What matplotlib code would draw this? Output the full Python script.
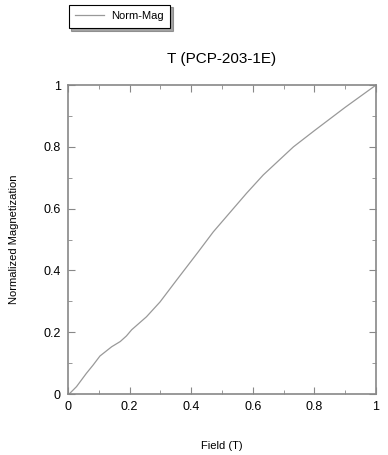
import matplotlib
matplotlib.use("Agg")
import matplotlib.pyplot as plt
import numpy as np
from matplotlib.ticker import MultipleLocator

# values
field = [0.0, 0.006, 0.028, 0.06, 0.082, 0.104, 0.142, 0.17, 0.19, 0.207, 0.255,
         0.299, 0.353, 0.423, 0.472, 0.58, 0.634, 0.732, 0.802, 0.9, 1.0]
norm_mag = [0.0, 0.002, 0.024, 0.067, 0.094, 0.123, 0.153, 0.17, 0.188, 0.208, 0.25,
            0.298, 0.369, 0.46, 0.525, 0.65, 0.709, 0.80, 0.854, 0.928, 1.0]
ticks = [0, 0.2, 0.4, 0.6, 0.8, 1]
tick_labels = ["0", "0.2", "0.4", "0.6", "0.8", "1"]

plt.rcParams['font.family'] = ['Liberation Sans', 'DejaVu Sans']

fig = plt.figure(figsize=(3.88, 4.55), dpi=100)
ax = fig.add_axes([0.175, 0.134, 0.794, 0.679])

line, = ax.plot(field, norm_mag, color='#999999', lw=0.9, label='Norm-Mag')

ax.set_xlim(0, 1)
ax.set_ylim(0, 1)
ax.set_xticks(ticks)
ax.set_xticklabels(tick_labels)
ax.set_yticks(ticks)
ax.set_yticklabels(tick_labels)
ax.xaxis.set_minor_locator(MultipleLocator(0.1))
ax.yaxis.set_minor_locator(MultipleLocator(0.1))
ax.tick_params(which='both', direction='in', top=True, right=True,
               color='#888888', labelsize=9, pad=5)
ax.tick_params(which='major', length=5)
ax.tick_params(which='minor', length=3)
for s in ax.spines.values():
    s.set_color('#888888')
    s.set_linewidth(1.2)

ax.set_title('T (PCP-203-1E)', fontsize=11, pad=16)
ax.set_xlabel('Field (T)', fontsize=8, labelpad=20)
ax.set_ylabel('Normalized Magnetization', fontsize=8, labelpad=18)

leg = fig.legend(handles=[line], loc='upper left',
                 bbox_to_anchor=(0.168, 0.997), frameon=True, fancybox=False,
                 shadow=True, edgecolor='black', fontsize=8,
                 handlelength=2.6, handletextpad=0.6, borderpad=0.6,
                 borderaxespad=0.3)
leg.get_frame().set_linewidth(0.8)

fig.savefig('out.png', dpi=100)
